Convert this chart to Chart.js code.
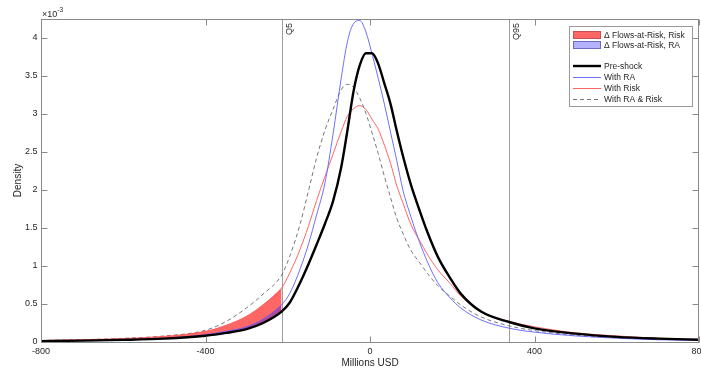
<!DOCTYPE html>
<html>
<head>
<meta charset="utf-8">
<script src="https://cdn.jsdelivr.net/npm/chart.js@4.4.1/dist/chart.umd.min.js"></script>
<style>
  html, body { margin: 0; padding: 0; background: #fff; overflow: hidden; }
  canvas { display: block; }
</style>
</head>
<body>
<canvas id="c" width="701" height="375"></canvas>
<script>
// Flows-at-Risk density plot — pre-shock vs. shocked distributions.
// Density values are in units of 1e-3 (the axis shows the "×10^-3" multiplier).

// ── data ────────────────────────────────────────────
const X_USD = [-800, -700, -600, -500, -400, -350, -300, -260, -215, -195,
  -170, -150, -130, -110, -90, -70, -55, -40, -25, -10,
  5, 20, 35, 50, 65, 80, 100, 120, 140, 165,
  195, 220, 270, 340, 400, 500, 600, 700, 800];

const PRE_SHOCK = [0.012, 0.018, 0.028, 0.045, 0.083, 0.12, 0.17, 0.25, 0.40, 0.52,
  0.78, 1.02, 1.28, 1.55, 1.85, 2.30, 2.78, 3.30, 3.64, 3.80,
  3.80, 3.66, 3.40, 3.13, 2.78, 2.45, 2.06, 1.74, 1.44, 1.12,
  0.84, 0.64, 0.40, 0.26, 0.18, 0.11, 0.068, 0.045, 0.03];

const WITH_RA = [0.01, 0.016, 0.026, 0.048, 0.096, 0.14, 0.20, 0.30, 0.49, 0.64,
  0.96, 1.28, 1.67, 2.08, 2.73, 3.47, 3.95, 4.19, 4.23, 4.08,
  3.79, 3.47, 3.13, 2.76, 2.39, 2.00, 1.64, 1.32, 1.05, 0.78,
  0.58, 0.45, 0.29, 0.18, 0.13, 0.08, 0.05, 0.03, 0.02];

const WITH_RISK = [0.02, 0.03, 0.045, 0.074, 0.14, 0.22, 0.34, 0.49, 0.71, 0.91,
  1.22, 1.52, 1.86, 2.17, 2.47, 2.77, 2.97, 3.07, 3.11, 3.06,
  2.93, 2.80, 2.59, 2.35, 2.06, 1.83, 1.54, 1.34, 1.15, 0.95,
  0.77, 0.61, 0.40, 0.27, 0.20, 0.12, 0.08, 0.05, 0.035];

const WITH_RA_RISK = [0.02, 0.03, 0.048, 0.08, 0.155, 0.27, 0.45, 0.63, 0.88, 1.13,
  1.55, 1.98, 2.42, 2.78, 3.06, 3.32, 3.39, 3.35, 3.21, 3.01,
  2.75, 2.48, 2.18, 1.90, 1.63, 1.43, 1.20, 1.05, 0.90, 0.74,
  0.60, 0.49, 0.33, 0.21, 0.15, 0.09, 0.06, 0.04, 0.025];

const QUANTILES = [{ value: -215, label: "Q5" }, { value: 339, label: "Q95" }];
const X_TICKS = [-800, -400, 0, 400, 800];
const Y_MAX = 4.25;

const FONT = '"Liberation Sans", Arial, Helvetica, sans-serif';
const AXIS_GRAY = "#8a8a8a";
const TEXT = "#262626";
const RED_FILL = "rgba(255,0,0,0.6)";
const BLUE_FILL = "rgba(0,0,255,0.3)";

const SERIES = [
  { label: "Pre-shock", ys: PRE_SHOCK, color: "#000000", width: 2.4, dash: [] },
  { label: "With RA", ys: WITH_RA, color: "rgb(95,95,255)", width: 0.9, dash: [] },
  { label: "With Risk", ys: WITH_RISK, color: "rgb(255,85,85)", width: 0.9, dash: [] },
  { label: "With RA & Risk", ys: WITH_RA_RISK, color: "#555555", width: 0.8, dash: [4, 3] },
];

const toPoints = (ys) => X_USD.map((x, i) => ({ x, y: ys[i] }));
// left tail only (up to Q5) — used for the Flows-at-Risk shading
const leftTail = (ys) => toPoints(ys).filter((p) => p.x <= QUANTILES[0].value);

// ── datasets ────────────────────────────────────────
// first dataset is drawn last (on top), so curves come first, shading last
const datasets = SERIES.map((s) => ({
  label: s.label,
  data: toPoints(s.ys),
  borderColor: s.color,
  borderWidth: s.width,
  borderDash: s.dash,
  fill: false,
}));
const TAIL_BASE = datasets.length;
datasets.push(
  { label: "tail", data: leftTail(PRE_SHOCK), borderWidth: 0, borderColor: "transparent", fill: false },
  { label: "Δ Flows-at-Risk, RA", data: leftTail(WITH_RA), borderWidth: 0, borderColor: "transparent",
    backgroundColor: BLUE_FILL, fill: TAIL_BASE },
  { label: "Δ Flows-at-Risk, Risk", data: leftTail(WITH_RISK), borderWidth: 0, borderColor: "transparent",
    backgroundColor: RED_FILL, fill: TAIL_BASE },
);

// ── frame, inward ticks, quantile lines, legend ─────
const framePlugin = {
  id: "frame",
  beforeDatasetsDraw(chart) {
    const { ctx, chartArea: a, scales: { x } } = chart;
    ctx.save();
    ctx.strokeStyle = "#9c9c9c";
    ctx.lineWidth = 1;
    for (const q of QUANTILES) {
      const px = Math.round(x.getPixelForValue(q.value)) + 0.5;
      ctx.beginPath();
      ctx.moveTo(px, a.top);
      ctx.lineTo(px, a.bottom);
      ctx.stroke();
    }
    ctx.restore();
  },
  afterDraw(chart) {
    const { ctx, chartArea: a, scales: { x, y } } = chart;
    ctx.save();

    // quantile labels, rotated, hanging from the top
    ctx.fillStyle = TEXT;
    ctx.font = `9px ${FONT}`;
    ctx.textBaseline = "top";
    ctx.textAlign = "right";
    for (const q of QUANTILES) {
      const px = Math.round(x.getPixelForValue(q.value)) + 3;
      ctx.save();
      ctx.translate(px, a.top + 4);
      ctx.rotate(-Math.PI / 2);
      ctx.fillText(q.label, 0, 0);
      ctx.restore();
    }

    // box
    const L = Math.round(a.left) + 0.5, R = Math.round(a.right) - 0.5;
    const T = Math.round(a.top) + 0.5, B = Math.round(a.bottom) + 0.5;
    ctx.strokeStyle = AXIS_GRAY;
    ctx.lineWidth = 1;
    ctx.strokeRect(L, T, R - L, B - T);

    // inward ticks on all four sides
    const TL = 6;
    ctx.beginPath();
    for (const v of X_TICKS) {
      const px = Math.round(x.getPixelForValue(v)) + 0.5;
      ctx.moveTo(px, B); ctx.lineTo(px, B - TL);
      ctx.moveTo(px, T); ctx.lineTo(px, T + TL);
    }
    for (const t of y.ticks) {
      const py = Math.round(y.getPixelForValue(t.value)) + 0.5;
      ctx.moveTo(L, py); ctx.lineTo(L + TL, py);
      ctx.moveTo(R, py); ctx.lineTo(R - TL, py);
    }
    ctx.stroke();

    // ×10^-3 multiplier
    ctx.fillStyle = TEXT;
    ctx.textAlign = "left";
    ctx.textBaseline = "middle";
    ctx.font = `9px ${FONT}`;
    ctx.fillText("×10", a.left + 1, 15);
    const w = ctx.measureText("×10").width;
    ctx.font = `6.5px ${FONT}`;
    ctx.fillText("-3", a.left + 1 + w, 10);

    drawLegend(ctx);
    ctx.restore();
  },
};

function drawLegend(ctx) {
  const box = { left: 569.5, top: 26.5, right: 692.5, bottom: 106.5 };
  ctx.fillStyle = "#ffffff";
  ctx.fillRect(box.left, box.top, box.right - box.left, box.bottom - box.top);
  ctx.strokeStyle = "#9a9a9a";
  ctx.lineWidth = 1;
  ctx.setLineDash([]);
  ctx.strokeRect(box.left, box.top, box.right - box.left, box.bottom - box.top);

  const x0 = 573, x1 = 601, tx = 604;
  ctx.font = `8.5px ${FONT}`;
  ctx.textAlign = "left";
  ctx.textBaseline = "middle";

  const swatches = [
    { label: "Δ Flows-at-Risk, Risk", y: 35, fill: RED_FILL, edge: "#c85050" },
    { label: "Δ Flows-at-Risk, RA", y: 45, fill: BLUE_FILL, edge: "#6a6ac0" },
  ];
  for (const s of swatches) {
    ctx.fillStyle = s.fill;
    ctx.fillRect(x0, s.y - 3.5, x1 - x0, 7);
    ctx.strokeStyle = s.edge;
    ctx.strokeRect(x0 + 0.5, s.y - 3.5, x1 - x0 - 1, 7);
    ctx.fillStyle = TEXT;
    ctx.fillText(s.label, tx, s.y + 0.5);
  }

  const rows = [66, 77.5, 88.5, 99.5];
  SERIES.forEach((s, i) => {
    const yy = rows[i];
    ctx.strokeStyle = s.color;
    ctx.lineWidth = s.width;
    ctx.setLineDash(s.dash);
    ctx.beginPath();
    ctx.moveTo(x0, yy);
    ctx.lineTo(x1, yy);
    ctx.stroke();
    ctx.setLineDash([]);
    ctx.fillStyle = TEXT;
    ctx.fillText(s.label, tx, yy + 0.5);
  });
}

// ── chart ───────────────────────────────────────────
Chart.defaults.font.family = FONT;

new Chart(document.getElementById("c"), {
  type: "line",
  data: { datasets },
  options: {
    responsive: false,
    animation: false,
    events: [],
    layout: { padding: { top: 19, right: 2, bottom: 0, left: 0 } },
    elements: {
      point: { radius: 0 },
      line: { cubicInterpolationMode: "monotone" },
    },
    scales: {
      x: {
        type: "linear",
        min: X_TICKS[0],
        max: X_TICKS[X_TICKS.length - 1],
        grid: { display: false, drawTicks: false },
        border: { display: false },
        ticks: { stepSize: 400, padding: 4, color: TEXT, font: { size: 9 }, maxRotation: 0, autoSkip: false,
          callback: (v) => String(v) },
        title: { display: true, text: "Millions USD", color: TEXT, font: { size: 10 }, padding: { top: 0, bottom: 6 } },
        afterFit(s) {
          s.height = 33;
          s.paddingLeft = 0;
          s.paddingRight = 0; // let the "800" label run off the canvas edge
        },
      },
      y: {
        min: 0,
        max: Y_MAX,
        grid: { display: false, drawTicks: false },
        border: { display: false },
        ticks: { stepSize: 0.5, includeBounds: false, padding: 3.5, color: TEXT, font: { size: 9 },
          callback: (v) => String(v) },
        title: { display: true, text: "Density", color: TEXT, font: { size: 10 }, padding: { top: 12, bottom: 0 } },
        afterFit(s) { s.width = 41; },
      },
    },
    plugins: { legend: { display: false }, tooltip: { enabled: false } },
  },
  plugins: [framePlugin],
});
</script>
</body>
</html>
